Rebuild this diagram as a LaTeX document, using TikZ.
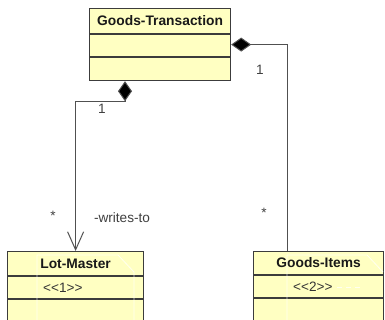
\documentclass[tikz,border=0pt]{standalone}
\usepackage{fontspec}
\setmainfont{Liberation Sans}
\usetikzlibrary{arrows.meta,calc}

\definecolor{classfill}{HTML}{FFFFC2}
\definecolor{classline}{HTML}{3C3C3C}
\definecolor{linkline}{HTML}{505050}

\tikzset{
  classbox/.style={draw=classline, fill=classfill, line width=1.2pt,
    rectangle, inner sep=0pt, anchor=north west},
  divider/.style={draw=classline, line width=1.1pt},
  title/.style={font=\fontsize{13.8}{15}\selectfont\bfseries, text=black!90, inner sep=0pt},
  stereo/.style={font=\fontsize{13.6}{15}\selectfont, text=black!80, inner sep=0pt, anchor=west},
  mult/.style={font=\fontsize{13.6}{15}\selectfont, text=black!75, inner sep=0pt},
  link/.style={draw=linkline, line width=1pt},
  ghost/.style={draw=white, line width=0.8pt, opacity=0.75},
}

\begin{document}
\begin{tikzpicture}[x=1pt, y=-1pt]
  \useasboundingbox (0,0) rectangle (385,320);
  \clip (0,0) rectangle (385,320);
  \fill[white] (0,0) rectangle (385,320);

  % classes
  \node[classbox, minimum width=141pt, minimum height=72pt] (gt) at (89,8) {};
  \node[classbox, minimum width=136pt, minimum height=72pt] (lm) at (7,251) {};
  \node[classbox, minimum width=130pt, minimum height=72pt] (gi) at (253,251) {};

  % compartments
  \draw[divider] ($(gt.north west)+(0,26)$) -- ($(gt.north east)+(0,26)$);
  \draw[divider] ($(gt.north west)+(0,49)$) -- ($(gt.north east)+(0,49)$);
  \draw[divider] ($(lm.north west)+(0,25)$) -- ($(lm.north east)+(0,25)$);
  \draw[divider] ($(lm.north west)+(0,48)$) -- ($(lm.north east)+(0,48)$);
  \draw[divider] ($(gi.north west)+(0,24)$) -- ($(gi.north east)+(0,24)$);
  \draw[divider] ($(gi.north west)+(0,47)$) -- ($(gi.north east)+(0,47)$);

  % names and stereotypes
  \node[title] (gtname) at ($(gt.north)+(0,13)$) {Goods-Transaction};
  \node[title] (lmname) at ($(lm.north)+(0,12.5)$) {Lot-Master};
  \node[title] (giname) at ($(gi.north)+(0,12)$) {Goods-Items};
  \node[stereo] (lmst) at (43,287.5) {<{}<1>{}>};
  \node[stereo] (gist) at (293,287) {<{}<2>{}>};

  % faint note outlines inside the lower classes
  \draw[ghost] (37,323) -- (37,255) -- (118,255) -- (134,272) -- (134,323);
  \draw[ghost] (287,323) -- (287,255) -- (367,255) -- (383,272);
  \draw[ghost, dash pattern=on 5pt off 4pt] (337,287.5) -- (360,287.5);

  % associations
  \coordinate (lbend) at ($(gt.south west)+(36,20)$);
  \coordinate (rdrop) at ($(gi.north west)+(34,0)$);
  \draw[link, {Diamond[length=20pt,width=14pt,fill=black]}-{Straight Barb[length=18pt,width=16pt,line width=1pt]}]
    ($(gt.south west)+(36,0)$) -- (lbend) -| (lm.north);
  \draw[link, {Diamond[length=20pt,width=14pt,fill=black]}-]
    (gt.east) -| (rdrop);

  % multiplicities and role
  \node[mult] (m1) at (102,109) {1};
  \node[mult] (m2) at (53,216) {*};
  \node[mult] (role) at (122,218) {-writes-to};
  \node[mult] (m3) at (260,70) {1};
  \node[mult] (m4) at (264,213) {*};
\end{tikzpicture}
\end{document}
